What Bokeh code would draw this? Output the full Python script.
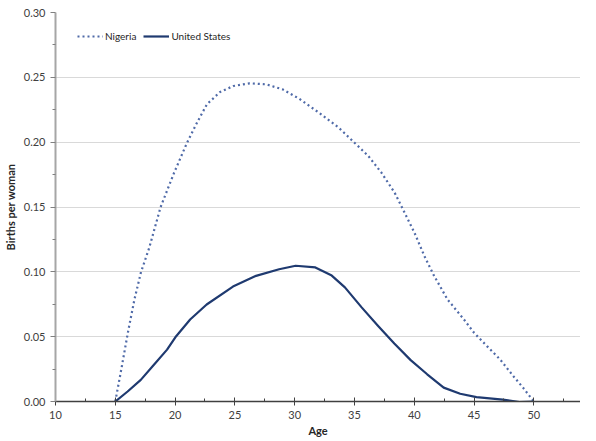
from bokeh.plotting import figure
from bokeh.models import Range1d, FixedTicker, NumeralTickFormatter, Legend, LegendItem
from bokeh.embed import file_html
from bokeh.resources import INLINE

# Data (age in years, births per woman)
nigeria_age = [15, 15.5, 16.05, 16.6, 17.15, 17.84, 18.79, 19.9, 21.0, 21.83, 22.66,
               23.76, 24.87, 26.24, 27.62, 29.0, 30.38, 32.03, 33.68, 35.0, 36.16, 37.26,
               38.36, 39.19, 40.02, 40.85, 41.67, 42.78, 44.15, 45.0, 46.08, 47.18, 48.29,
               49.11, 50]
nigeria_val = [0.0, 0.0247, 0.053, 0.0787, 0.0998, 0.1186, 0.150, 0.176, 0.1996,
               0.215, 0.2292, 0.2387, 0.2433, 0.2454, 0.2446, 0.2407, 0.2335, 0.2227, 0.2112,
               0.1996, 0.1893, 0.1764, 0.161, 0.1456, 0.1301, 0.1121, 0.0967, 0.0787, 0.0633,
               0.053, 0.0427, 0.0324, 0.0195, 0.0105, 0.0]

us_age = [15, 16.03, 17.13, 18.23, 19.33, 20.02, 21.26, 22.64, 24.84, 26.77, 28.7, 30.08,
          31.73, 33.1, 34.2, 35.6, 36.96, 38.33, 39.7, 41.08, 42.46, 43.84, 45.2, 47.4,
          48.8, 50]
us_val = [0.0, 0.0077, 0.0167, 0.0284, 0.040, 0.0495, 0.0632, 0.0748, 0.0886, 0.0969, 0.102,
          0.1047, 0.1034, 0.0971, 0.088, 0.0726, 0.0585, 0.0448, 0.0319, 0.021, 0.0107,
          0.006, 0.0034, 0.0015, -0.0004, 0.0]

x_ticks = [10, 15, 20, 25, 30, 35, 40, 45, 50]
x_minor = [12.5, 17.5, 22.5, 27.5, 32.5, 37.5, 42.5, 47.5, 52.5]
y_ticks = [0.0, 0.05, 0.10, 0.15, 0.20, 0.25, 0.30]
y_minor = [0.025, 0.075, 0.125, 0.175, 0.225, 0.275]

FONT = "Lato"
NIG_COLOR = "#4F6AA8"
US_COLOR = "#1F3A70"

p = figure(width=580, height=439, output_backend="svg", toolbar_location=None,
           x_range=Range1d(10, 53.9), y_range=Range1d(0, 0.30),
           min_border_left=49, min_border_top=12, min_border_right=0, min_border_bottom=0)
p.outline_line_color = None
p.background_fill_color = "white"
p.border_fill_color = "white"

r_nig = p.line(nigeria_age, nigeria_val, line_color=NIG_COLOR, line_width=2.2, line_dash="2 3")
r_us = p.line(us_age, us_val, line_color=US_COLOR, line_width=2.2, line_join="round")

# x axis
xa = p.xaxis[0]
xa.ticker = FixedTicker(ticks=x_ticks, minor_ticks=x_minor)
xa.axis_label = "Age"
xa.axis_label_text_font = FONT
xa.axis_label_text_font_style = "bold"
xa.axis_label_text_font_size = "11px"
xa.axis_label_text_color = "#262626"
xa.axis_label_standoff = 2
xa.major_label_text_font = FONT
xa.major_label_text_font_size = "11px"
xa.major_label_text_color = "#404040"
xa.major_label_standoff = 5
xa.axis_line_color = "#404040"
xa.axis_line_width = 1.5
xa.major_tick_line_color = "#404040"
xa.major_tick_in = 4
xa.major_tick_out = 4
xa.minor_tick_line_color = "#404040"
xa.minor_tick_in = 3
xa.minor_tick_out = 0

# y axis
ya = p.yaxis[0]
ya.ticker = FixedTicker(ticks=y_ticks, minor_ticks=y_minor)
ya.formatter = NumeralTickFormatter(format="0.00")
ya.axis_label = "Births per woman"
ya.axis_label_text_font = FONT
ya.axis_label_text_font_style = "bold"
ya.axis_label_text_font_size = "11px"
ya.axis_label_text_color = "#262626"
ya.axis_label_standoff = 4
ya.major_label_text_font = FONT
ya.major_label_text_font_size = "11px"
ya.major_label_text_color = "#404040"
ya.major_label_standoff = 5
ya.axis_line_color = "#A6A6A6"
ya.axis_line_width = 2
ya.major_tick_line_color = "#808080"
ya.major_tick_in = 0
ya.major_tick_out = 5
ya.minor_tick_line_color = "#808080"
ya.minor_tick_in = 0
ya.minor_tick_out = 3

p.xgrid.visible = False
p.ygrid.ticker = FixedTicker(ticks=y_ticks)
p.ygrid.grid_line_color = "#D9D9D9"
p.ygrid.grid_line_width = 1

legend = Legend(items=[LegendItem(label="Nigeria", renderers=[r_nig]),
                       LegendItem(label="United States", renderers=[r_us])],
                orientation="horizontal", location=(22, 358),
                label_text_font=FONT, label_text_font_size="10px", label_text_color="#262626",
                glyph_width=26, glyph_height=14, label_standoff=2, spacing=7,
                padding=0, margin=0, border_line_color=None, background_fill_alpha=0,
                label_height=14)
p.add_layout(legend, "center")

open("out.html", "w").write(file_html(p, INLINE))
